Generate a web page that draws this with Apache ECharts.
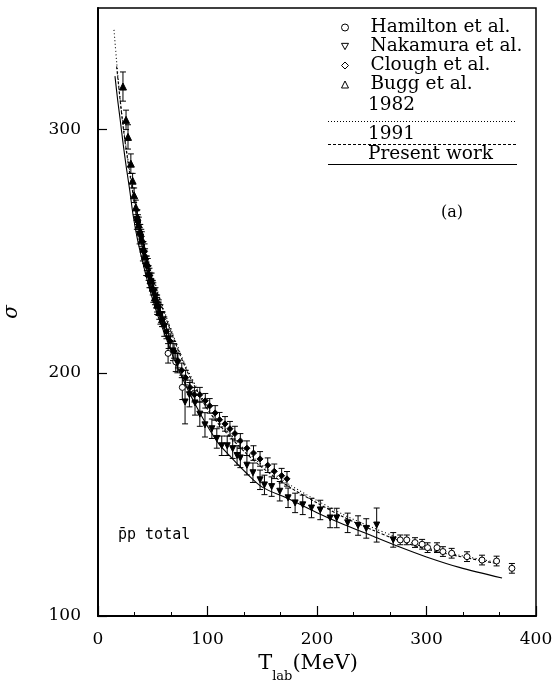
<!DOCTYPE html>
<html>
<head>
<meta charset="utf-8">
<script src="https://cdn.jsdelivr.net/npm/echarts@6/dist/echarts.min.js"></script>
<style>
  html, body { margin: 0; padding: 0; background: #fff; }
  #chart { width: 554px; height: 683px; }
</style>
</head>
<body>
<div id="chart"></div>
<script>
// Axis ranges (MeV, mb)
const xRange = [0, 400];
const yRange = [100, 350];

// Measurements: [T_lab, sigma, error]
const hamilton = [
  [64, 208, 4], [71, 204.5, 4], [77, 194, 5],
  [276, 131.3, 2], [282, 131.3, 2], [289.5, 130.2, 2], [296, 129.5, 2],
  [301, 128.1, 2], [309.6, 128.1, 2], [315, 126.5, 2], [323, 125.8, 2],
  [337, 124.4, 2], [350.7, 123.0, 2], [364, 122.6, 2], [378, 119.6, 2]
];
const nakamura = [
  [35.5, 263, 4], [38, 257, 4], [41, 250, 4], [44, 244, 4],
  [47, 239, 4], [50.5, 233, 4], [54, 228, 4], [57, 224, 4],
  [60.5, 219, 4], [64.5, 214, 4], [68.5, 209, 4], [72.5, 204, 4],
  [79.5, 188, 9], [83.5, 191, 5], [88.6, 187.6, 5], [93, 183, 5],
  [97.7, 178.6, 5], [104, 177, 4], [108.5, 173, 4], [113, 170, 4],
  [118, 170, 4], [123, 168.8, 4], [127, 166, 4], [130, 165, 4],
  [136, 162, 4], [141.5, 158.9, 4], [148, 156, 4], [152, 153.9, 4],
  [158.6, 153.2, 4], [166, 151.3, 4], [173.6, 148.6, 4], [180, 146.5, 4],
  [187, 145.7, 4], [195, 144.4, 4], [203, 143.6, 4], [212, 140.3, 4],
  [218, 140.3, 4], [228, 138.3, 4], [237.5, 137.2, 4], [245, 136, 4],
  [254.5, 137.4, 7], [269.6, 131.3, 3]
];
const clough = [
  [36.5, 262, 3], [39.5, 256, 3], [42.5, 250, 3], [45.5, 244, 3],
  [49, 238, 3], [52.5, 232, 3], [55.5, 227, 3], [59, 222, 3],
  [62.5, 217, 3], [66, 213, 3], [69.5, 209, 3], [73, 205, 3],
  [76.5, 201, 3], [80, 198, 3], [84, 194, 3], [88, 191, 3],
  [93, 191, 3], [98, 188.5, 3], [102, 186.4, 3], [107, 183.5, 3],
  [111, 180.7, 3], [116, 179, 3], [120.5, 177, 3], [125, 175, 3],
  [130, 172, 3], [136, 169, 3], [142, 167, 3], [148, 164.6, 3],
  [155, 162, 3], [161, 159.5, 3], [167.7, 157.7, 3], [172.6, 156.4, 3]
];
const bugg = [
  [22.8, 317.7, 6], [25.6, 304, 4], [27.4, 297, 5], [30.0, 286, 4],
  [31.6, 279, 3], [33.0, 273, 3], [34.6, 268, 3], [36.0, 264, 3],
  [37.3, 261, 3], [38.6, 258, 3], [40, 255, 3], [41.5, 251, 3],
  [43, 248, 3], [44.6, 245, 3], [46.2, 241, 3], [48, 238, 3],
  [50, 235, 3], [52, 231, 3], [54, 228, 3], [56, 225, 3], [58.5, 222, 3]
];

// Model curves: energies and cross sections
const fit1982T = [14.6, 17, 19, 21.6, 25, 28, 32, 36, 40, 45, 50, 60, 70, 80, 90, 100, 110, 120, 135, 150, 175, 200, 225, 250, 275, 300, 330, 365];
const fit1982S = [341, 328, 318, 307, 295, 286, 275, 265, 257, 248, 240, 226, 214, 203, 194, 186, 180, 175, 168, 162, 154, 147.5, 141.5, 136.5, 132, 128, 125, 122];
const fit1991T = [17, 20, 23, 26, 30, 34, 38, 42, 46, 50, 60, 70, 80, 90, 100, 110, 120, 135, 150, 175, 200, 225, 250, 275, 300, 330, 365];
const fit1991S = [326, 313, 301, 291, 279, 268, 259, 252, 245, 239, 225, 213, 202, 193, 185, 179, 174, 167, 161, 153, 146.5, 140.5, 135.5, 131, 127.5, 124.5, 121.5];
const presentT = [15.5, 18, 20, 23, 26, 29, 32, 36, 40, 45, 50, 55, 60, 70, 80, 90, 100, 110, 120, 135, 150, 175, 200, 225, 250, 275, 300, 330, 369];
const presentS = [322, 312, 305, 294, 284, 275, 265, 255, 247, 238, 230, 223, 217, 205, 195, 186, 178, 171, 166, 159, 153, 148, 142.5, 137.5, 133, 128.5, 124.3, 120, 115.6];

const seriesNames = ['Hamilton et al.', 'Nakamura et al.', 'Clough et al.', 'Bugg et al.'];

const SERIF = 'DejaVu Serif';
const invTriangle = 'path://M0,0 L10,0 L5,9 Z';

const zip = (xs, ys) => xs.map((x, i) => [x, ys[i]]);

function errorBars(points) {
  return {
    type: 'custom',
    silent: true,
    clip: true,
    z: 2,
    data: points.map(p => [p[0], p[1] - p[2], p[1] + p[2]]),
    encode: { x: 0, y: [1, 2] },
    renderItem: (params, api) => {
      const lo = api.coord([api.value(0), api.value(1)]);
      const hi = api.coord([api.value(0), api.value(2)]);
      const w = 3;
      const st = { stroke: '#000', lineWidth: 1 };
      return {
        type: 'group',
        children: [
          { type: 'line', shape: { x1: lo[0], y1: lo[1], x2: hi[0], y2: hi[1] }, style: st },
          { type: 'line', shape: { x1: lo[0] - w, y1: lo[1], x2: lo[0] + w, y2: lo[1] }, style: st },
          { type: 'line', shape: { x1: hi[0] - w, y1: hi[1], x2: hi[0] + w, y2: hi[1] }, style: st }
        ]
      };
    }
  };
}

function curve(name, xs, ys, dash) {
  return {
    name: name,
    type: 'line',
    data: zip(xs, ys),
    showSymbol: false,
    smooth: 0.3,
    silent: true,
    z: 3,
    lineStyle: { color: '#000', width: 1.1, type: dash }
  };
}

const chart = echarts.init(document.getElementById('chart'), null, { renderer: 'canvas' });

const option = {
  backgroundColor: '#fff',
  animation: false,
  grid: {
    left: 98, right: 18, top: 8, bottom: 67,
    containLabel: false,
    outerBoundsMode: 'none',
    show: true, borderColor: '#000', borderWidth: 1.5, backgroundColor: 'transparent'
  },
  xAxis: {
    type: 'value',
    min: xRange[0], max: xRange[1], interval: 100,
    name: '{t|T}{s|lab}{t|(MeV)}',
    nameLocation: 'middle',
    nameGap: 36,
    nameTextStyle: {
      padding: [0, 18, 0, 0],
      rich: {
        t: { fontFamily: SERIF, fontSize: 21, color: '#000', lineHeight: 30, verticalAlign: 'top' },
        s: { fontFamily: SERIF, fontSize: 13, color: '#000', lineHeight: 30, verticalAlign: 'bottom' }
      }
    },
    axisLine: { show: true, lineStyle: { color: '#000', width: 2 } },
    axisTick: { show: true, inside: true, length: 10, lineStyle: { color: '#000', width: 1.2 } },
    minorTick: { show: true, splitNumber: 3, length: 4, lineStyle: { color: '#000', width: 1 } },
    axisLabel: { color: '#000', fontFamily: SERIF, fontSize: 17, margin: 15 },
    splitLine: { show: false }
  },
  yAxis: {
    type: 'value',
    min: yRange[0], max: yRange[1], interval: 100,
    name: 'σ',
    nameLocation: 'middle',
    nameGap: 76,
    nameTextStyle: { fontFamily: SERIF, fontSize: 20, fontStyle: 'italic', color: '#000' },
    axisLine: { show: true, lineStyle: { color: '#000', width: 2 } },
    axisTick: { show: true, inside: true, length: 9, lineStyle: { color: '#000', width: 1.2 } },
    axisLabel: { color: '#000', fontFamily: SERIF, fontSize: 17, margin: 17, showMaxLabel: false },
    splitLine: { show: false }
  },
  legend: {
    orient: 'vertical',
    left: 336, top: 13,
    itemWidth: 7, itemHeight: 7, itemGap: 0,
    selectedMode: false,
    formatter: n => '{a|' + n + '}',
    textStyle: {
      color: '#000',
      rich: { a: { fontFamily: SERIF, fontSize: 18.5, color: '#000', lineHeight: 17, padding: [0, 0, 0, 17] } }
    },
    data: [
      { name: seriesNames[0], icon: 'circle', itemStyle: { color: '#fff', borderColor: '#000', borderWidth: 1 } },
      { name: seriesNames[1], icon: invTriangle, itemStyle: { color: '#fff', borderColor: '#000', borderWidth: 1 } },
      { name: seriesNames[2], icon: 'diamond', itemStyle: { color: '#fff', borderColor: '#000', borderWidth: 1 } },
      { name: seriesNames[3], icon: 'triangle', itemStyle: { color: '#fff', borderColor: '#000', borderWidth: 1 } }
    ]
  },
  graphic: [
    { type: 'text', x: 368, y: 105, style: { text: '1982', fontFamily: SERIF, fontSize: 18.5, fill: '#000', verticalAlign: 'middle' } },
    { type: 'line', shape: { x1: 328, y1: 121.5, x2: 517, y2: 121.5 }, style: { stroke: '#000', lineWidth: 1, lineDash: [1, 2] } },
    { type: 'text', x: 368, y: 134, style: { text: '1991', fontFamily: SERIF, fontSize: 18.5, fill: '#000', verticalAlign: 'middle' } },
    { type: 'line', shape: { x1: 328, y1: 144.5, x2: 517, y2: 144.5 }, style: { stroke: '#000', lineWidth: 1, lineDash: [3, 2] } },
    { type: 'text', x: 368, y: 154, style: { text: 'Present work', fontFamily: SERIF, fontSize: 18.5, fill: '#000', verticalAlign: 'middle' } },
    { type: 'line', shape: { x1: 328, y1: 164.5, x2: 517, y2: 164.5 }, style: { stroke: '#000', lineWidth: 1.2 } },
    { type: 'text', x: 452, y: 213, style: { text: '(a)', fontFamily: SERIF, fontSize: 16, fill: '#000', align: 'center', verticalAlign: 'middle' } },
    { type: 'text', x: 118, y: 535, style: { text: 'p\u0304p total', fontFamily: 'DejaVu Sans Mono', fontSize: 15, fill: '#000', verticalAlign: 'middle' } }
  ],
  series: [
    errorBars(hamilton),
    errorBars(nakamura),
    errorBars(clough),
    errorBars(bugg),
    curve('1982', fit1982T, fit1982S, [1, 2.5]),
    curve('1991', fit1991T, fit1991S, [3, 2]),
    curve('Present work', presentT, presentS, 'solid'),
    {
      name: seriesNames[0], type: 'scatter', z: 4, symbol: 'circle', symbolSize: 6,
      itemStyle: { color: '#fff', borderColor: '#000', borderWidth: 1, opacity: 1 },
      data: hamilton.map(p => [p[0], p[1]])
    },
    {
      name: seriesNames[1], type: 'scatter', z: 4, symbol: invTriangle, symbolSize: [6, 6],
      itemStyle: { color: '#000', borderColor: '#000', borderWidth: 1, opacity: 1 },
      data: nakamura.map(p => [p[0], p[1]])
    },
    {
      name: seriesNames[2], type: 'scatter', z: 4, symbol: 'diamond', symbolSize: 6,
      itemStyle: { color: '#000', borderColor: '#000', borderWidth: 1, opacity: 1 },
      data: clough.map(p => [p[0], p[1]])
    },
    {
      name: seriesNames[3], type: 'scatter', z: 4, symbol: 'triangle', symbolSize: 7,
      itemStyle: { color: '#000', borderColor: '#000', borderWidth: 1, opacity: 1 },
      data: bugg.map(p => [p[0], p[1]])
    }
  ]
};

chart.setOption(option);
</script>
</body>
</html>
